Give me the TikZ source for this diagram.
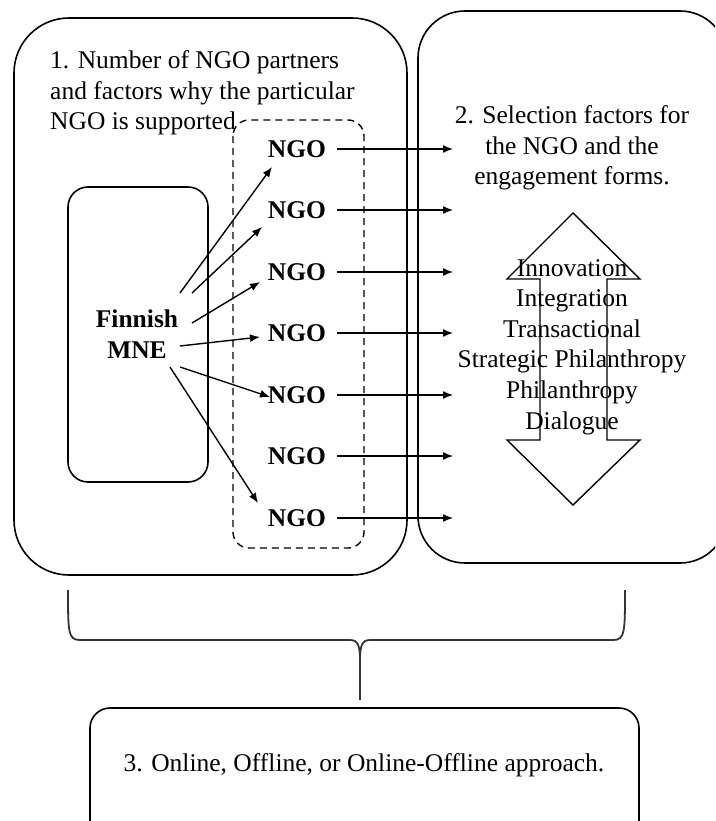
\documentclass[tikz,border=0pt]{standalone}
\usepackage{fontspec}
\setmainfont{Liberation Serif}
\usetikzlibrary{arrows.meta,calc}
\begin{document}
\begin{tikzpicture}[x=1pt,y=-1pt,
  box/.style={draw,line width=1.6pt,rounded corners=#1},
  txt/.style={font=\fontsize{25.5}{30.6}\selectfont,inner sep=0pt},
  ngo/.style={inner sep=0pt,font=\fontsize{25.5}{30.6}\selectfont\bfseries},
  link/.style={line width=1.4pt,-{Latex[length=10pt,width=8pt]}},
  dashbox/.style={draw,line width=1.4pt,dash pattern=on 7pt off 5pt,rounded corners=16pt},
  brace/.style={line width=1.8pt,draw=black!80}]

\useasboundingbox (0,0) rectangle (715,821);

% outer frames (partly cut by the page edge)
\begin{scope}
  \clip (0,0) rectangle (715,821);
  \draw[box=55pt] (14,18) rectangle (407,575);
  \draw[box=47pt] (418,11) rectangle (727,563);
  \draw[box=20pt] (90,708) rectangle (639,840);
\end{scope}

% company box and the dashed NGO group
\draw[box=20pt] (68,187) rectangle (208,482);
\draw[dashbox] (233,120) rectangle (364,548);

% headings
\node[txt,anchor=west,align=left] (t1) at (50,93)
  {1. Number of NGO partners\\and factors why the particular\\NGO is supported};
\node[txt,align=center] (t2) at (572,148)
  {2. Selection factors for\\the NGO and the\\engagement forms.};

% two-headed arrow behind the engagement forms
\draw[line width=1.4pt] (573,213) -- (640,279) -- (607,279) -- (607,440)
  -- (640,440) -- (573,505) -- (507,440) -- (540,440) -- (540,279)
  -- (507,279) -- cycle;
\node[txt,align=center] (forms) at (572,347)
  {Innovation\\Integration\\Transactional\\Strategic Philanthropy\\Philanthropy\\Dialogue};

% the company
\node[ngo,align=center] (mne) at (137,334) {Finnish\\MNE};

% NGO partners and their links to the selection factors
\foreach \i/\yy in {1/149,2/210,3/272,4/333,5/395,6/456,7/518}{
  \node[ngo] (n\i) at (297,\yy) {NGO};
  \coordinate (r\i) at (453,\yy);
  \draw[link,shorten <=11pt] (n\i.east) -- (r\i);
}

% links from the company to its partners
\draw[link] ($(mne.center)+(43,-41)$) -- ($(n1.center)+(-25,18)$);
\draw[link] ($(mne.center)+(55,-41)$) -- ($(n2.center)+(-35,17)$);
\draw[link] ($(mne.center)+(55,-11)$) -- ($(n3.center)+(-37,10)$);
\draw[link] ($(mne.center)+(43,12)$)  -- ($(n4.center)+(-37,4)$);
\draw[link] ($(mne.center)+(43,33)$)  -- ($(n5.center)+(-27,2)$);
\draw[link] ($(mne.center)+(33,33)$)  -- ($(n7.center)+(-39,-15)$);

% brace gathering both parts
\coordinate (bl) at (68,590);
\coordinate (br) at (625,590);
\coordinate (bt) at (360,700);
\draw[brace] (bl) .. controls (68,632) and (68,640) .. (80,640) -- (350,640)
  .. controls (358,640) and (360,646) .. (360,660) -- (bt);
\draw[brace] (br) .. controls (625,632) and (625,640) .. (613,640) -- (370,640)
  .. controls (362,640) and (360,646) .. (360,660);

% approach box text
\node[txt] (t3) at (364,765) {3. Online, Offline, or Online-Offline approach.};

\end{tikzpicture}
\end{document}
